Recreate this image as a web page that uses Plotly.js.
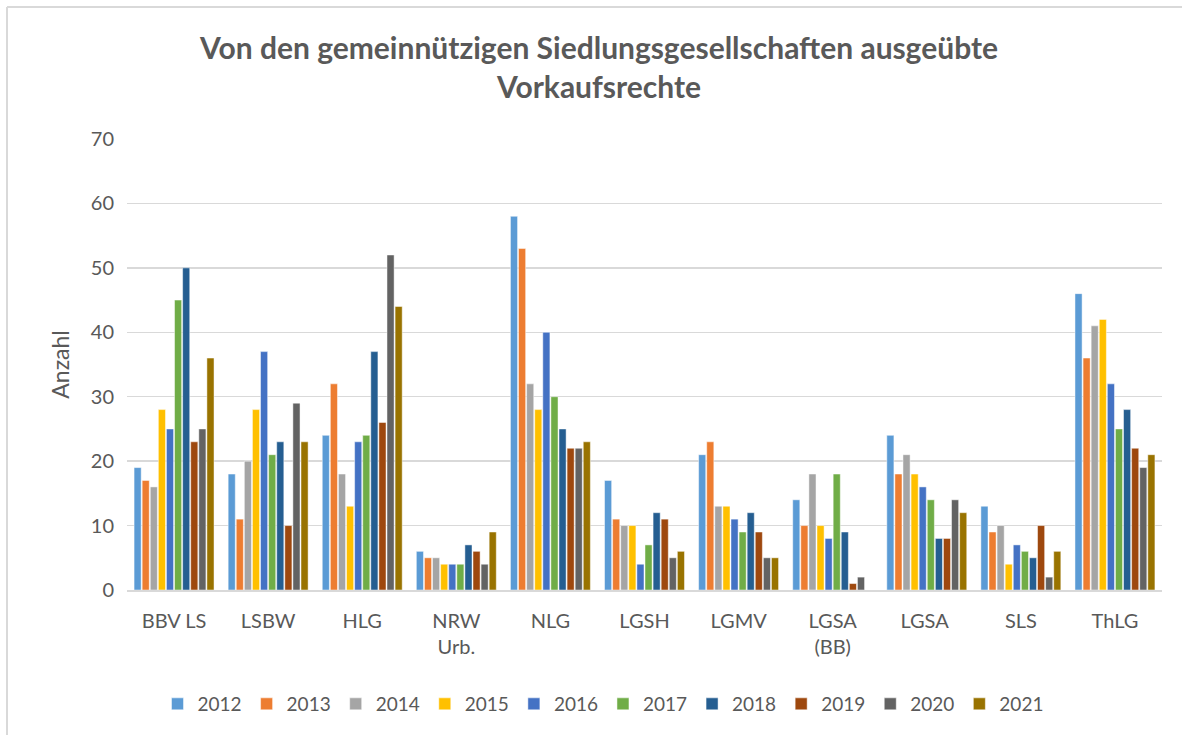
<!DOCTYPE html>
<html>
<head>
<meta charset="utf-8">
<script src="https://cdn.plot.ly/plotly-3.0.1.min.js"></script>
<style>html,body{margin:0;padding:0;background:#fff;}#chart{width:1182px;height:735px;}</style>
</head>
<body>
<div id="chart"></div>
<script>
const categories = ["BBV LS", "LSBW", "HLG", "NRW<br>Urb.", "NLG", "LGSH", "LGMV", "LGSA<br>(BB)", "LGSA ", "SLS", "ThLG"];
const years = ["2012", "2013", "2014", "2015", "2016", "2017", "2018", "2019", "2020", "2021"];
const colors = ["#5B9BD5", "#ED7D31", "#A5A5A5", "#FFC000", "#4472C4", "#70AD47", "#255E91", "#9E480E", "#636363", "#997300"];

const v2012 = [19, 18, 24, 6, 58, 17, 21, 14, 24, 13, 46];
const v2013 = [17, 11, 32, 5, 53, 11, 23, 10, 18, 9, 36];
const v2014 = [16, 20, 18, 5, 32, 10, 13, 18, 21, 10, 41];
const v2015 = [28, 28, 13, 4, 28, 10, 13, 10, 18, 4, 42];
const v2016 = [25, 37, 23, 4, 40, 4, 11, 8, 16, 7, 32];
const v2017 = [45, 21, 24, 4, 30, 7, 9, 18, 14, 6, 25];
const v2018 = [50, 23, 37, 7, 25, 12, 12, 9, 8, 5, 28];
const v2019 = [23, 10, 26, 6, 22, 11, 9, 1, 8, 10, 22];
const v2020 = [25, 29, 52, 4, 22, 5, 5, 2, 14, 2, 19];
const v2021 = [36, 23, 44, 9, 23, 6, 5, null, 12, 6, 21];
const seriesValues = [v2012, v2013, v2014, v2015, v2016, v2017, v2018, v2019, v2020, v2021];

const traces = years.map((y, i) => ({
  type: "bar",
  name: y,
  x: categories,
  y: seriesValues[i],
  marker: { color: colors[i], line: { color: "rgba(255,255,255,0.6)", width: 0.8 } },
  hoverinfo: "x+y+name"
}));

const W = 1182, H = 735;
const m = { l: 127, r: 20, t: 139, b: 145 };
const pw = W - m.l - m.r, ph = H - m.t - m.b;
const px = (x) => (x - m.l) / pw;
const py = (y) => 1 - (y - m.t) / ph;

const font = "Lato, 'Open Sans', 'DejaVu Sans', sans-serif";

const layout = {
  width: W, height: H,
  margin: m,
  paper_bgcolor: "#fff",
  plot_bgcolor: "#fff",
  font: { family: font, color: "#595959", size: 18 },
  title: {
    text: "<b>Von den gemeinnützigen Siedlungsgesellschaften ausgeübte<br>Vorkaufsrechte</b>",
    font: { family: font, size: 30, color: "#595959" },
    x: 599 / W, xanchor: "center",
    y: 1 - 59 / H, yanchor: "middle"
  },
  barmode: "group",
  bargap: 0.14,
  bargroupgap: 0.12,
  showlegend: true,
  legend: {
    orientation: "h",
    x: px(603), xanchor: "center",
    y: py(704), yanchor: "middle",
    font: { family: font, size: 19, color: "#595959" },
    traceorder: "normal",
    itemwidth: 30,
    tracegroupgap: 0
  },
  xaxis: {
    type: "category",
    showgrid: false,
    showline: true,
    linecolor: "#D9D9D9",
    linewidth: 2,
    ticks: "",
    ticklabelstandoff: 12,
    tickfont: { family: font, size: 20, color: "#595959" },
    automargin: false
  },
  yaxis: {
    range: [0, 70],
    dtick: 10,
    tick0: 0,
    showgrid: true,
    gridcolor: "#D9D9D9",
    gridwidth: 1.5,
    zeroline: false,
    showline: false,
    ticks: "",
    ticklabelstandoff: 12,
    tickfont: { family: font, size: 20, color: "#595959" },
    title: { text: "Anzahl", font: { family: font, size: 23, color: "#595959" }, standoff: 14 },
    automargin: false
  },
  shapes: [
    { type: "line", xref: "paper", yref: "paper", x0: px(7), x1: px(7), y0: py(7), y1: py(H + 5), line: { color: "#D9D9D9", width: 2 } },
    { type: "line", xref: "paper", yref: "paper", x0: px(7), x1: px(W + 5), y0: py(7), y1: py(7), line: { color: "#D9D9D9", width: 2 } }
  ]
};

Plotly.newPlot("chart", traces, layout, { displayModeBar: false, staticPlot: true });
</script>
</body>
</html>
